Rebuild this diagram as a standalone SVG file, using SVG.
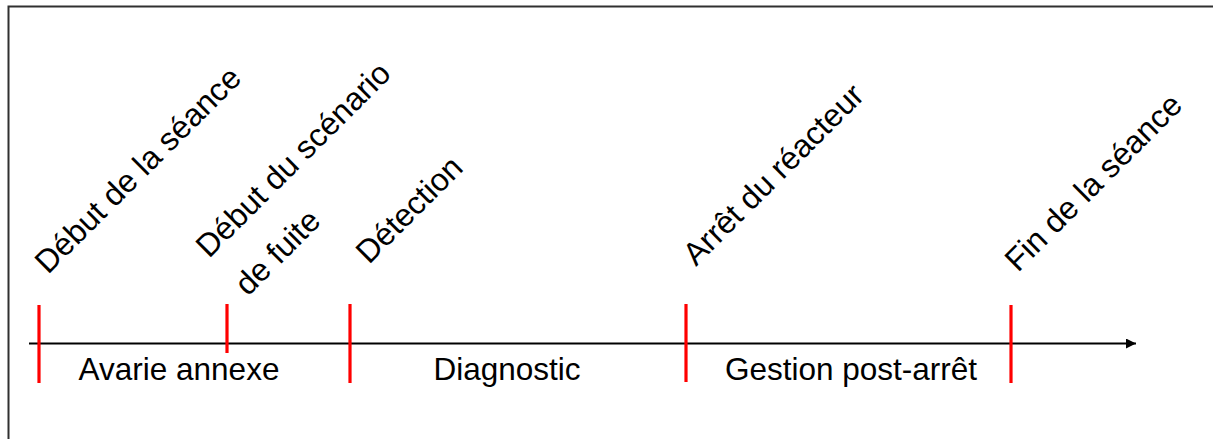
<svg xmlns="http://www.w3.org/2000/svg" width="1213" height="439" viewBox="0 0 1213 439">
<style>
.lbl{font-family:"Liberation Sans",Arial,sans-serif;font-size:32px;fill:#000}
.ph{font-family:"Liberation Sans",Arial,sans-serif;font-size:31.5px;fill:#000;text-anchor:middle}
.tick{stroke:#ff0000;stroke-width:3.2}
.frame{stroke:#303030;stroke-width:2;fill:none}
</style>
<defs>
<marker id="arr" markerWidth="10" markerHeight="10" refX="10" refY="5" orient="auto" markerUnits="userSpaceOnUse">
<path d="M0,0 L10,5 L0,10 Z" fill="#000"/>
</marker>
</defs>
<rect width="1213" height="439" fill="#fff"/>
<g id="frame">
<path class="frame" d="M8.5,439 L8.5,6.5 L1213,6.5"/>
</g>
<g id="connectors">
<line x1="29" y1="343.5" x2="1136" y2="343.5" stroke="#000" stroke-width="2" marker-end="url(#arr)"/>
</g>
<g id="tick-debut-seance"><line class="tick" x1="39" y1="305" x2="39" y2="383"/></g>
<g id="tick-debut-scenario"><line class="tick" x1="227" y1="304" x2="227" y2="353"/></g>
<g id="tick-detection"><line class="tick" x1="350" y1="304" x2="350" y2="383"/></g>
<g id="tick-arret"><line class="tick" x1="686" y1="304" x2="686" y2="382"/></g>
<g id="tick-fin"><line class="tick" x1="1011" y1="305" x2="1011" y2="383"/></g>
<g id="label-debut-seance"><text class="lbl" transform="translate(48,275) rotate(-45)">Début de la séance</text></g>
<g id="label-debut-scenario">
<text class="lbl" transform="translate(209,259) rotate(-45)">Début du scénario</text>
<text class="lbl" transform="translate(248,297) rotate(-45)">de fuite</text>
</g>
<g id="label-detection"><text class="lbl" transform="translate(369,265) rotate(-45)">Détection</text></g>
<g id="label-arret"><text class="lbl" transform="translate(696,267) rotate(-45)">Arrêt du réacteur</text></g>
<g id="label-fin"><text class="lbl" transform="translate(1018,273) rotate(-45)">Fin de la séance</text></g>
<g id="phase-avarie"><text class="ph" x="179" y="380">Avarie annexe</text></g>
<g id="phase-diagnostic"><text class="ph" x="507" y="380">Diagnostic</text></g>
<g id="phase-gestion"><text class="ph" x="851" y="380">Gestion post-arrêt</text></g>
</svg>
